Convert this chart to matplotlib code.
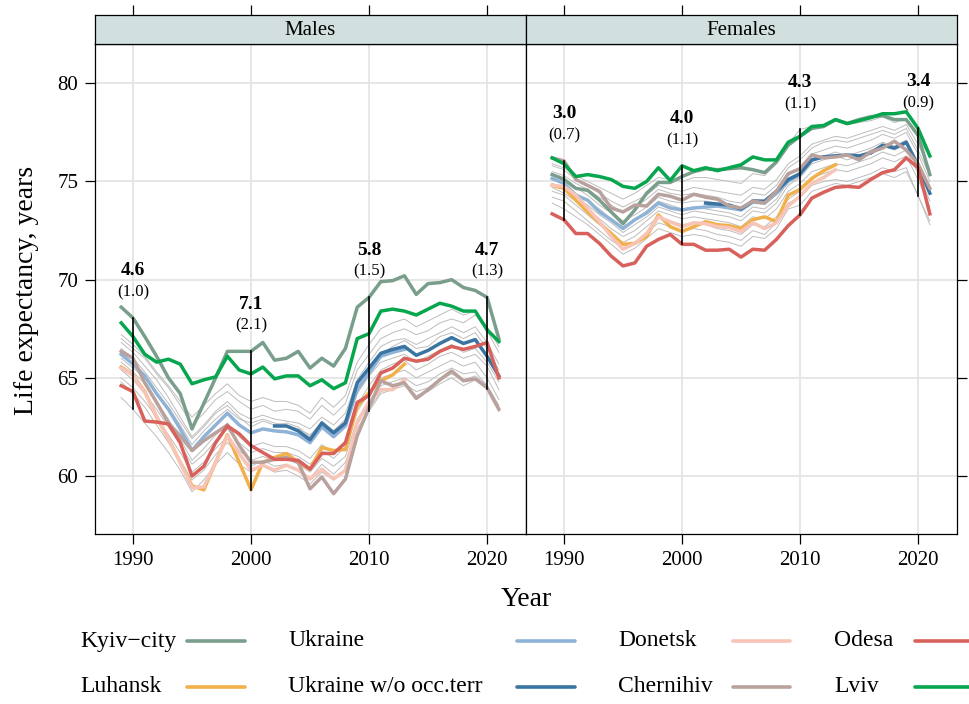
import matplotlib
matplotlib.use("Agg")
import matplotlib.pyplot as plt
from matplotlib.lines import Line2D

plt.rcParams['font.family'] = ['Liberation Serif', 'DejaVu Serif']

years = list(range(1989, 2022))
years_short = list(range(1989, 2014))   # Ukraine, Donetsk, Luhansk
years_wo = list(range(2002, 2022))      # Ukraine w/o occupied territories

# ---- Males ----
kyiv_m = [68.6, 68.05, 67.1, 66.1, 65.0, 64.2, 62.4, 63.7, 65.0, 66.35, 66.35, 66.35, 66.8,
          65.9, 66.0, 66.35, 65.5, 66.0, 65.6, 66.5, 68.6, 69.1, 69.9, 69.95, 70.2, 69.25,
          69.8, 69.85, 70.0, 69.6, 69.45, 69.1, 67.0]
lviv_m = [67.8, 67.1, 66.2, 65.8, 65.95, 65.7, 64.7, 64.9, 65.05, 66.1, 65.4, 65.2, 65.55,
          64.95, 65.1, 65.1, 64.6, 64.9, 64.45, 64.75, 67.0, 67.25, 68.4, 68.5, 68.4, 68.2,
          68.5, 68.8, 68.65, 68.4, 68.4, 67.45, 66.85]
ukraine_m = [66.2, 65.7, 65.1, 64.2, 63.4, 62.4, 61.3, 62.0, 62.6, 63.2, 62.6, 62.2, 62.4,
             62.3, 62.25, 62.1, 61.7, 62.5, 62.0, 62.55, 64.4, 65.25, 66.1, 66.3, 66.45]
ukr_wo_m = [62.55, 62.55, 62.3, 61.85, 62.7, 62.2, 62.7, 64.75, 65.5, 66.25, 66.45, 66.6,
            66.15, 66.4, 66.75, 67.05, 66.75, 66.95, 66.1, 65.1]
donetsk_m = [65.5, 65.15, 64.25, 63.05, 61.9, 60.7, 59.4, 59.45, 60.7, 62.05, 61.15, 60.3,
             60.55, 60.3, 60.55, 60.3, 59.85, 60.35, 59.85, 60.3, 62.7, 63.8, 64.4, 64.4, 64.9]
luhansk_m = [65.55, 65.15, 64.3, 63.0, 61.9, 60.7, 59.5, 59.3, 60.7, 62.1, 60.7, 59.3, 60.7,
             60.95, 61.15, 60.7, 60.35, 61.45, 61.3, 61.35, 63.55, 64.25, 64.85, 65.15, 65.7]
odesa_m = [64.6, 64.3, 62.8, 62.75, 62.65, 61.7, 60.0, 60.5, 61.7, 62.55, 62.15, 61.55, 61.2,
           60.85, 60.85, 60.8, 60.35, 61.15, 61.15, 61.7, 63.75, 64.1, 65.25, 65.5, 66.0,
           65.85, 65.95, 66.35, 66.6, 66.45, 66.6, 66.8, 65.0]
chernihiv_m = [66.35, 66.0, 64.75, 63.75, 62.7, 62.05, 61.3, 61.8, 62.2, 62.6, 61.55, 60.7,
               60.7, 60.85, 60.95, 60.7, 59.35, 59.95, 59.1, 59.85, 62.05, 63.5, 64.85, 64.6,
               64.75, 63.95, 64.4, 64.9, 65.35, 64.85, 64.95, 64.5, 63.4]
other_m = [
    [67.0, 66.5, 66.0, 65.2, 64.5, 63.6, 62.6, 63.2, 63.9, 64.3, 63.8, 63.4, 63.6, 63.3, 63.4,
     63.3, 62.9, 63.6, 63.1, 63.7, 65.4, 66.2, 67.0, 67.3, 67.5, 67.2, 67.4, 67.8, 68.0, 67.8,
     68.2, 67.4, 66.3],
    [66.8, 66.3, 65.6, 64.9, 64.0, 63.0, 62.0, 62.6, 63.3, 63.8, 63.2, 62.9, 63.1, 62.9, 62.8,
     62.7, 62.4, 63.0, 62.6, 63.2, 64.9, 65.8, 66.6, 66.9, 67.0, 66.7, 67.0, 67.3, 67.6, 67.3,
     67.6, 66.8, 65.7],
    [65.0, 64.5, 63.8, 63.0, 62.1, 61.2, 60.2, 60.7, 61.4, 62.0, 61.3, 60.8, 61.0, 60.8, 60.9,
     60.6, 60.2, 60.9, 60.5, 61.0, 62.9, 63.8, 64.6, 64.8, 65.0, 64.6, 64.8, 65.2, 65.5, 65.2,
     65.3, 64.6, 63.5],
    [64.0, 63.4, 62.7, 62.0, 61.2, 60.3, 59.2, 59.8, 60.6, 61.2, 60.6, 60.2, 60.5, 60.2, 60.3,
     60.0, 59.6, 60.2, 59.8, 60.3, 62.0, 63.3, 64.2, 64.4, 64.6, 64.1, 64.3, 64.7, 65.0, 64.6,
     64.9, 64.45, 63.3],
    [66.5, 66.0, 65.3, 64.5, 63.7, 62.8, 61.9, 62.5, 63.2, 63.6, 63.0, 62.5, 62.8, 62.6, 62.7,
     62.5, 62.0, 62.8, 62.3, 62.8, 64.6, 65.5, 66.2, 66.6, 66.9, 66.5, 66.6, 67.1, 67.3, 67.0,
     67.3, 66.5, 65.4],
    [65.8, 65.3, 64.7, 63.8, 62.9, 61.9, 60.8, 61.4, 62.1, 62.7, 62.0, 61.5, 61.7, 61.5, 61.5,
     61.3, 60.9, 61.6, 61.2, 61.8, 63.6, 64.6, 65.4, 65.7, 65.9, 65.4, 65.7, 66.1, 66.3, 66.0,
     66.2, 65.6, 64.4],
    [66.0, 65.5, 65.0, 64.2, 63.5, 62.6, 61.6, 62.3, 62.9, 63.4, 62.9, 62.7, 62.9, 62.7, 62.6,
     62.4, 62.1, 62.7, 62.3, 62.9, 64.2, 65.1, 65.8, 66.0, 66.2, 65.8, 66.1, 66.4, 66.7, 66.3,
     66.5, 65.8, 64.8],
    [65.4, 64.9, 64.2, 63.4, 62.5, 61.6, 60.6, 61.1, 61.8, 62.4, 61.7, 61.2, 61.4, 61.2, 61.2,
     61.0, 60.6, 61.3, 60.9, 61.5, 63.3, 64.2, 65.0, 65.2, 65.4, 65.0, 65.3, 65.6, 65.9, 65.6,
     65.8, 65.0, 63.9],
    [67.2, 66.7, 66.1, 65.3, 64.6, 63.8, 63.0, 63.6, 64.2, 64.7, 64.1, 63.8, 64.0, 63.8, 63.8,
     63.6, 63.2, 64.0, 63.5, 64.1, 65.8, 66.7, 67.5, 67.8, 68.0, 67.6, 67.9, 68.2, 68.5, 68.2,
     68.4, 67.6, 66.6],
    [64.8, 64.2, 63.5, 62.6, 61.7, 60.8, 59.8, 60.3, 61.1, 61.7, 61.1, 60.5, 60.8, 60.5, 60.6,
     60.3, 59.9, 60.6, 60.1, 60.7, 62.4, 63.4, 64.3, 64.5, 64.7, 64.3, 64.5, 64.9, 65.2, 64.9,
     65.1, 64.6, 63.6],
]

# ---- Females ----
kyiv_f = [75.35, 75.1, 74.65, 74.55, 74.05, 73.45, 72.85, 73.55, 74.4, 74.95, 74.95, 75.25,
          75.5, 75.65, 75.6, 75.65, 75.7, 75.6, 75.45, 76.0, 76.85, 77.3, 77.7, 77.8, 78.15,
          77.95, 78.15, 78.3, 78.35, 78.15, 78.15, 77.35, 75.35]
lviv_f = [76.2, 75.9, 75.25, 75.35, 75.25, 75.1, 74.75, 74.65, 75.0, 75.7, 75.05, 75.8, 75.55,
          75.7, 75.55, 75.7, 75.85, 76.25, 76.1, 76.1, 77.0, 77.3, 77.8, 77.85, 78.15, 77.95,
          78.1, 78.25, 78.45, 78.45, 78.55, 77.7, 76.3]
ukraine_f = [75.15, 74.9, 74.3, 74.05, 73.45, 73.05, 72.6, 73.05, 73.4, 73.9, 73.65, 73.55,
             73.65, 73.7, 73.75, 73.65, 73.55, 73.95, 73.9, 74.4, 75.0, 75.35, 76.1, 76.25, 76.3]
ukr_wo_f = [73.9, 73.85, 73.8, 73.6, 74.0, 74.0, 74.5, 75.1, 75.4, 76.1, 76.25, 76.3, 76.35,
            76.3, 76.45, 76.85, 76.7, 77.0, 75.8, 74.4]
donetsk_f = [74.8, 74.75, 74.3, 73.65, 72.95, 72.2, 71.55, 71.85, 72.35, 73.2, 72.95, 72.7,
             72.9, 72.85, 72.7, 72.65, 72.45, 72.9, 72.6, 72.9, 73.75, 74.25, 74.9, 75.2, 75.6]
luhansk_f = [74.8, 74.65, 74.05, 73.45, 72.9, 72.35, 71.8, 71.85, 72.2, 73.3, 72.7, 72.45,
             72.7, 72.95, 72.8, 72.75, 72.6, 73.05, 73.2, 72.95, 74.3, 74.6, 75.15, 75.55, 75.85]
odesa_f = [73.35, 73.05, 72.35, 72.35, 71.85, 71.2, 70.7, 70.85, 71.7, 72.05, 72.3, 71.8, 71.8,
           71.5, 71.5, 71.55, 71.15, 71.55, 71.5, 72.05, 72.75, 73.3, 74.15, 74.45, 74.7,
           74.75, 74.7, 75.1, 75.45, 75.6, 76.2, 75.7, 73.35]
chernihiv_f = [76.2, 76.05, 75.1, 74.8, 74.5, 73.65, 73.45, 73.8, 73.75, 74.35, 74.25, 74.05,
               74.35, 74.2, 74.1, 73.75, 73.65, 74.0, 73.9, 74.5, 75.4, 75.65, 76.35, 76.2,
               76.25, 76.35, 76.1, 76.5, 76.7, 77.05, 76.6, 75.9, 74.65]
other_f = [
    [75.8, 75.6, 75.1, 74.8, 74.4, 74.0, 73.7, 74.0, 74.3, 74.8, 74.6, 74.5, 74.7, 74.6, 74.5,
     74.4, 74.3, 74.7, 74.6, 75.1, 75.9, 76.3, 76.9, 77.1, 77.3, 77.2, 77.4, 77.6, 77.8, 77.6,
     77.9, 76.9, 75.6],
    [75.4, 75.2, 74.7, 74.3, 73.8, 73.4, 73.0, 73.3, 73.7, 74.2, 74.0, 73.9, 74.0, 74.0, 73.9,
     73.8, 73.6, 74.1, 74.0, 74.5, 75.3, 75.7, 76.4, 76.6, 76.8, 76.7, 76.9, 77.1, 77.4, 77.2,
     77.5, 76.4, 75.0],
    [74.5, 74.3, 73.8, 73.3, 72.8, 72.3, 71.9, 72.2, 72.7, 73.2, 73.0, 72.8, 72.9, 72.8, 72.6,
     72.5, 72.3, 72.8, 72.7, 73.2, 74.1, 74.5, 75.2, 75.4, 75.6, 75.5, 75.7, 75.9, 76.2, 76.0,
     76.3, 75.1, 73.7],
    [73.9, 73.6, 73.2, 72.8, 72.3, 71.8, 71.3, 71.6, 72.1, 72.6, 72.4, 72.2, 72.3, 72.2, 72.0,
     71.9, 71.7, 72.2, 72.1, 72.6, 73.6, 73.8, 74.5, 74.7, 74.9, 74.8, 75.0, 75.2, 75.4, 75.2,
     75.5, 74.3, 72.8],
    [75.9, 75.7, 75.3, 75.0, 74.7, 74.4, 74.1, 74.4, 74.8, 75.2, 75.1, 75.0, 75.2, 75.2, 75.1,
     75.0, 74.9, 75.4, 75.3, 75.9, 76.9, 77.65, 77.8, 77.9, 78.1, 77.9, 78.0, 78.1, 78.3, 78.0,
     78.2, 77.3, 76.2],
    [74.9, 74.7, 74.2, 73.8, 73.3, 72.9, 72.4, 72.8, 73.2, 73.7, 73.5, 73.3, 73.5, 73.4, 73.3,
     73.2, 73.0, 73.5, 73.4, 73.9, 74.8, 75.2, 75.9, 76.1, 76.3, 76.1, 76.3, 76.6, 76.8, 76.6,
     76.9, 75.7, 74.4],
    [74.2, 74.0, 73.5, 73.0, 72.5, 72.0, 71.6, 71.9, 72.4, 72.9, 72.7, 72.5, 72.6, 72.5, 72.3,
     72.2, 72.0, 72.5, 72.3, 72.9, 73.9, 74.2, 74.8, 75.0, 75.1, 75.0, 75.2, 75.4, 75.7, 75.5,
     75.7, 74.26, 73.0],
    [75.5, 75.3, 74.9, 74.6, 74.2, 73.8, 73.4, 73.7, 74.1, 74.6, 74.4, 74.3, 74.4, 74.3, 74.2,
     74.0, 73.9, 74.4, 74.3, 74.8, 75.7, 76.1, 76.7, 77.0, 77.1, 77.0, 77.2, 77.4, 77.6, 77.4,
     77.7, 76.6, 75.3],
    [74.7, 74.4, 74.0, 73.6, 73.1, 72.6, 72.2, 72.5, 73.0, 73.5, 73.3, 73.1, 73.2, 73.1, 73.0,
     72.9, 72.7, 73.2, 73.1, 73.6, 74.5, 74.9, 75.5, 75.7, 75.9, 75.8, 76.0, 76.2, 76.5, 76.3,
     76.6, 75.4, 74.0],
    [75.1, 74.9, 74.4, 74.0, 73.6, 73.1, 72.7, 73.0, 73.5, 74.0, 73.8, 73.6, 73.7, 73.6, 73.5,
     73.4, 73.2, 73.7, 73.6, 74.1, 75.0, 75.4, 76.0, 76.3, 76.5, 76.3, 76.5, 76.7, 77.0, 76.8,
     77.1, 76.0, 74.7],
]

mark_years = [1990, 2000, 2010, 2020]
range_m = ["4.6", "7.1", "5.8", "4.7"]
sd_m = ["(1.0)", "(2.1)", "(1.5)", "(1.3)"]
range_f = ["3.0", "4.0", "4.3", "3.4"]
sd_f = ["(0.7)", "(1.1)", "(1.1)", "(0.9)"]

colors = {
    "Kyiv\u2212city": "#7a9e8c",
    "Luhansk": "#f2b04a",
    "Ukraine": "#8fb3d6",
    "Ukraine w/o occ.terr": "#3a74a2",
    "Donetsk": "#f8c4b8",
    "Chernihiv": "#b9a19d",
    "Odesa": "#d9615c",
    "Lviv": "#06a64e",
}

panels = [
    ("Males", other_m, [
        ("Kyiv\u2212city", years, kyiv_m), ("Luhansk", years_short, luhansk_m),
        ("Ukraine", years_short, ukraine_m), ("Ukraine w/o occ.terr", years_wo, ukr_wo_m),
        ("Donetsk", years_short, donetsk_m), ("Chernihiv", years, chernihiv_m),
        ("Odesa", years, odesa_m), ("Lviv", years, lviv_m)], range_m, sd_m),
    ("Females", other_f, [
        ("Kyiv\u2212city", years, kyiv_f), ("Luhansk", years_short, luhansk_f),
        ("Ukraine", years_short, ukraine_f), ("Ukraine w/o occ.terr", years_wo, ukr_wo_f),
        ("Donetsk", years_short, donetsk_f), ("Chernihiv", years, chernihiv_f),
        ("Odesa", years, odesa_f), ("Lviv", years, lviv_f)], range_f, sd_f),
]

W, H = 970, 704
fig = plt.figure(figsize=(9.7, 7.04), dpi=100)

def frac(x0, y0, x1, y1):
    return [x0 / W, 1 - y1 / H, (x1 - x0) / W, (y1 - y0) / H]

xlim = (1986.78, 2023.3)
ylim = (57.05, 82.0)
boxes = [(95, 526), (526, 957)]
ticks_x = [1990, 2000, 2010, 2020]
ticks_y = [60, 65, 70, 75, 80]

for i, (title, greys, named, rng, sds) in enumerate(panels):
    x0, x1 = boxes[i]
    ax = fig.add_axes(frac(x0, 44, x1, 534))
    ax.set_xlim(*xlim)
    ax.set_ylim(*ylim)
    for v in ticks_x:
        ax.axvline(v, color="#e3e3e3", lw=1.2, zorder=0)
    for v in ticks_y:
        ax.axhline(v, color="#e3e3e3", lw=1.2, zorder=0)
    for g in greys:
        ax.plot(years, g, color="#bdbdbd", lw=0.7, zorder=1)
    for name, yrs, vals in named:
        ax.plot(yrs, vals, color=colors[name], lw=2.5, zorder=3)

    # spread across regions at the marked years
    all_series = [(years, g) for g in greys] + [(yrs, v) for _, yrs, v in named]
    for k, yr in enumerate(mark_years):
        vals = [s[ys.index(yr)] for ys, s in all_series if yr in ys]
        lo, hi = min(vals), max(vals)
        ax.plot([yr, yr], [lo, hi], color="black", lw=1.2, zorder=4)
        ax.text(yr, hi + 2.4, rng[k], ha="center", va="center", fontsize=14,
                fontweight="bold", zorder=5)
        ax.text(yr, hi + 1.3, sds[k], ha="center", va="center", fontsize=12, zorder=5)

    for sp in ax.spines.values():
        sp.set_linewidth(0.9)
    ax.set_xticks(ticks_x)
    ax.set_yticks(ticks_y)
    ax.tick_params(axis="x", direction="out", length=7, width=0.9, labelsize=15, pad=5)
    if i == 0:
        ax.tick_params(axis="y", direction="out", length=7, width=0.9, labelsize=15, pad=5)
    else:
        ax.tick_params(axis="y", left=False, labelleft=False, right=True, direction="out",
                       length=7, width=0.9)

    # strip on top
    st = fig.add_axes(frac(x0, 15, x1, 44))
    st.set_facecolor("#d1dfdf")
    st.set_xlim(*xlim)
    st.set_yticks([])
    st.set_xticks(ticks_x)
    st.tick_params(axis="x", bottom=False, labelbottom=False, top=True, direction="out",
                   length=7, width=0.9)
    for sp in st.spines.values():
        sp.set_linewidth(0.9)
    st.text(0.5, 0.45, title, transform=st.transAxes, ha="center", va="center", fontsize=15)

fig.text(27 / W, 1 - 290 / H, "Life expectancy, years", rotation=90, ha="center",
         va="center", fontsize=20)
fig.text(526 / W, 1 - 600 / H, "Year", ha="center", va="center", fontsize=20)

# legend (column-major: text followed by a line key)
legend_order = ["Kyiv\u2212city", "Luhansk", "Ukraine", "Ukraine w/o occ.terr",
                "Donetsk", "Chernihiv", "Odesa", "Lviv"]
text_x = [80, 288, 618, 834]
line_x = [(187, 245), (517, 575), (733, 790), (915, 975)]
row_y = [641, 687]
for n, name in enumerate(legend_order):
    c, r = divmod(n, 2)
    fig.text(text_x[c] / W, 1 - row_y[r] / H, name, ha="left", va="center", fontsize=17)
    fig.add_artist(Line2D([line_x[c][0] / W, line_x[c][1] / W],
                          [1 - row_y[r] / H, 1 - row_y[r] / H],
                          color=colors[name], lw=2.6, transform=fig.transFigure,
                          solid_capstyle="round"))

fig.savefig("out.png", dpi=100)
